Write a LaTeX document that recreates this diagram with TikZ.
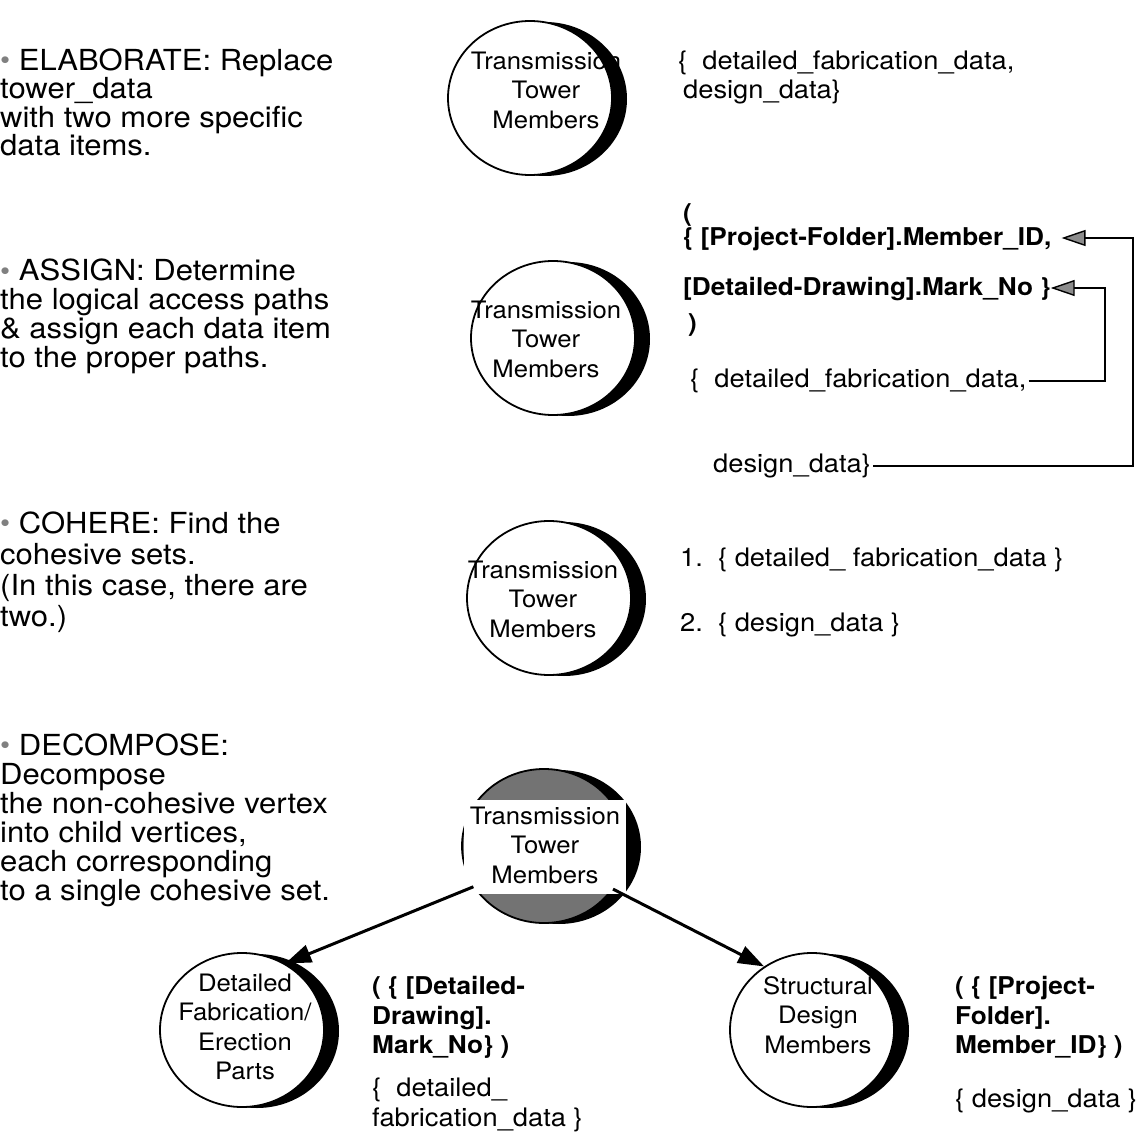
\documentclass[tikz,border=0pt]{standalone}
\usepackage{fontspec}
\setmainfont{TeX Gyre Heros}[FakeStretch=1.07]
\usetikzlibrary{arrows.meta,calc,shapes.geometric}
\newcommand\dotmark{{\color{black!50}\fontsize{27}{27}\selectfont\raisebox{1pt}{•}}\ }
% a vertex: black offset disc behind a white (or shaded) ellipse
\newcommand\mkvertex[4]{%
  \fill[black] (#2+15,#3+1) ellipse[x radius=82,y radius=77];
  \node[vertex,fill=#4] (#1) at (#2,#3) {};}
\begin{document}
\begin{tikzpicture}[x=1pt,y=-1pt,
  vertex/.style={ellipse,draw,line width=1.8pt,minimum width=164pt,minimum height=154pt,inner sep=0pt},
  steptext/.style={anchor=base west,inner sep=0pt,font=\fontsize{29}{29}\selectfont},
  datatext/.style={anchor=base west,inner sep=0pt,font=\fontsize{25.5}{25.5}\selectfont},
  keytext/.style={anchor=base west,inner sep=0pt,font=\fontsize{24.5}{24.5}\bfseries\selectfont},
  vtext/.style={align=center,inner sep=0pt,font=\fontsize{24}{29.5}\selectfont},
  pathlink/.style={line width=1.4pt,-{Triangle[length=24pt,width=16pt,fill=black!45]}},
  childlink/.style={line width=3pt,-{Triangle[length=26pt,width=18pt]}}]
\useasboundingbox (0,0) rectangle (1144,1134);

% ---- step descriptions on the left ----
\foreach \t [count=\i] in {{\dotmark ELABORATE: Replace},tower\_data,with two more specific,data items.}
  \node[steptext] (elab-\i) at (0,{70.5+28.3*(\i-1)}) {\t};
\foreach \t [count=\i] in {{\dotmark ASSIGN: Determine},the logical access paths,\& assign each data item,to the proper paths.}
  \node[steptext] (assign-\i) at (0,{281+28.7*(\i-1)}) {\t};
\foreach \t [count=\i] in {{\dotmark COHERE: Find the},cohesive sets.,{(In this case, there are},two.)}
  \node[steptext] (cohere-\i) at (0,{533+31.3*(\i-1)}) {\t};
\foreach \t [count=\i] in {{\dotmark DECOMPOSE:},Decompose,the non-cohesive vertex,{into child vertices,},each corresponding,to a single cohesive set.}
  \node[steptext] (decomp-\i) at (0,{755+29*(\i-1)}) {\t};

% ---- vertices ----
\mkvertex{v1}{530}{98}{white}
\mkvertex{v2}{553}{338}{white}
\mkvertex{v3}{549}{598}{white}
\mkvertex{v4}{544}{846}{black!55}
\mkvertex{v5}{242}{1030}{white}
\mkvertex{v6}{812}{1030}{white}

\node[vtext] (v1t) at (546,90) {Transmission\\Tower\\Members};
\node[vtext] (v2t) at (546,339) {Transmission\\Tower\\Members};
\node[vtext] (v3t) at (543,599) {Transmission\\Tower\\Members};
\node[fill=white,minimum width=162pt,minimum height=94pt,inner sep=0pt] (v4box) at (545,847) {};
\node[vtext] (v4t) at (545,845) {Transmission\\Tower\\Members};
\node[vtext] (v5t) at (245,1027) {Detailed\\Fabrication/\\Erection\\Parts};
\node[vtext] (v6t) at (818,1015) {Structural\\Design\\Members};

% ---- data items ----
\node[datatext] (d1a) at (678,70) {\{\ \ detailed\_fabrication\_data,};
\node[datatext] (d1b) at (683,99) {design\_data\}};

\node[keytext] (a0) at (683,222) {(};
\node[keytext] (a1) at (683,246) {\{ [Project-Folder].Member\_ID,};
\node[keytext] (a2) at (683,296) {[Detailed-Drawing].Mark\_No \}};
\node[keytext] (a3) at (688,331) {)};
\node[datatext] (a4) at (690,387) {\{\ \ detailed\_fabrication\_data,};
\node[datatext] (a5) at (713,472) {design\_data\}};

\node[datatext] (c1) at (680,566) {1.\ \ \{ detailed\_ fabrication\_data \}};
\node[datatext] (c2) at (680,631) {2.\ \ \{ design\_data \}};

\node[keytext] (k5a) at (372,994) {( \{ [Detailed-};
\node[keytext] (k5b) at (372,1024) {Drawing].};
\node[keytext] (k5c) at (372,1053) {Mark\_No\} )};
\node[datatext] (f5a) at (372,1096) {\{\ \ detailed\_};
\node[datatext] (f5b) at (372,1126) {fabrication\_data \}};

\node[keytext] (k6a) at (955,994) {( \{ [Project-};
\node[keytext] (k6b) at (955,1024) {Folder].};
\node[keytext] (k6c) at (955,1053) {Member\_ID\} )};
\node[datatext] (f6a) at (955,1107) {\{ design\_data \}};

% ---- access path connectors ----
\coordinate (fabEnd) at ($(a4.base east)+(2,-6)$);
\coordinate (markTip) at ($(a2.base east)+(0,-8)$);
\coordinate (desEnd) at ($(a5.base east)+(2,-6)$);
\coordinate (memTip) at ($(a1.base east)+(10,-8)$);
\draw[pathlink] (fabEnd) -| (markTip -| 1105,0) -- (markTip);
\draw[pathlink] (desEnd) -| (memTip -| 1133,0) -- (memTip);

% ---- decomposition ----
\draw[childlink] (v4.210) -- (v5.57);
\draw[childlink] (v4.328) -- (v6.127);
\end{tikzpicture}
\end{document}
